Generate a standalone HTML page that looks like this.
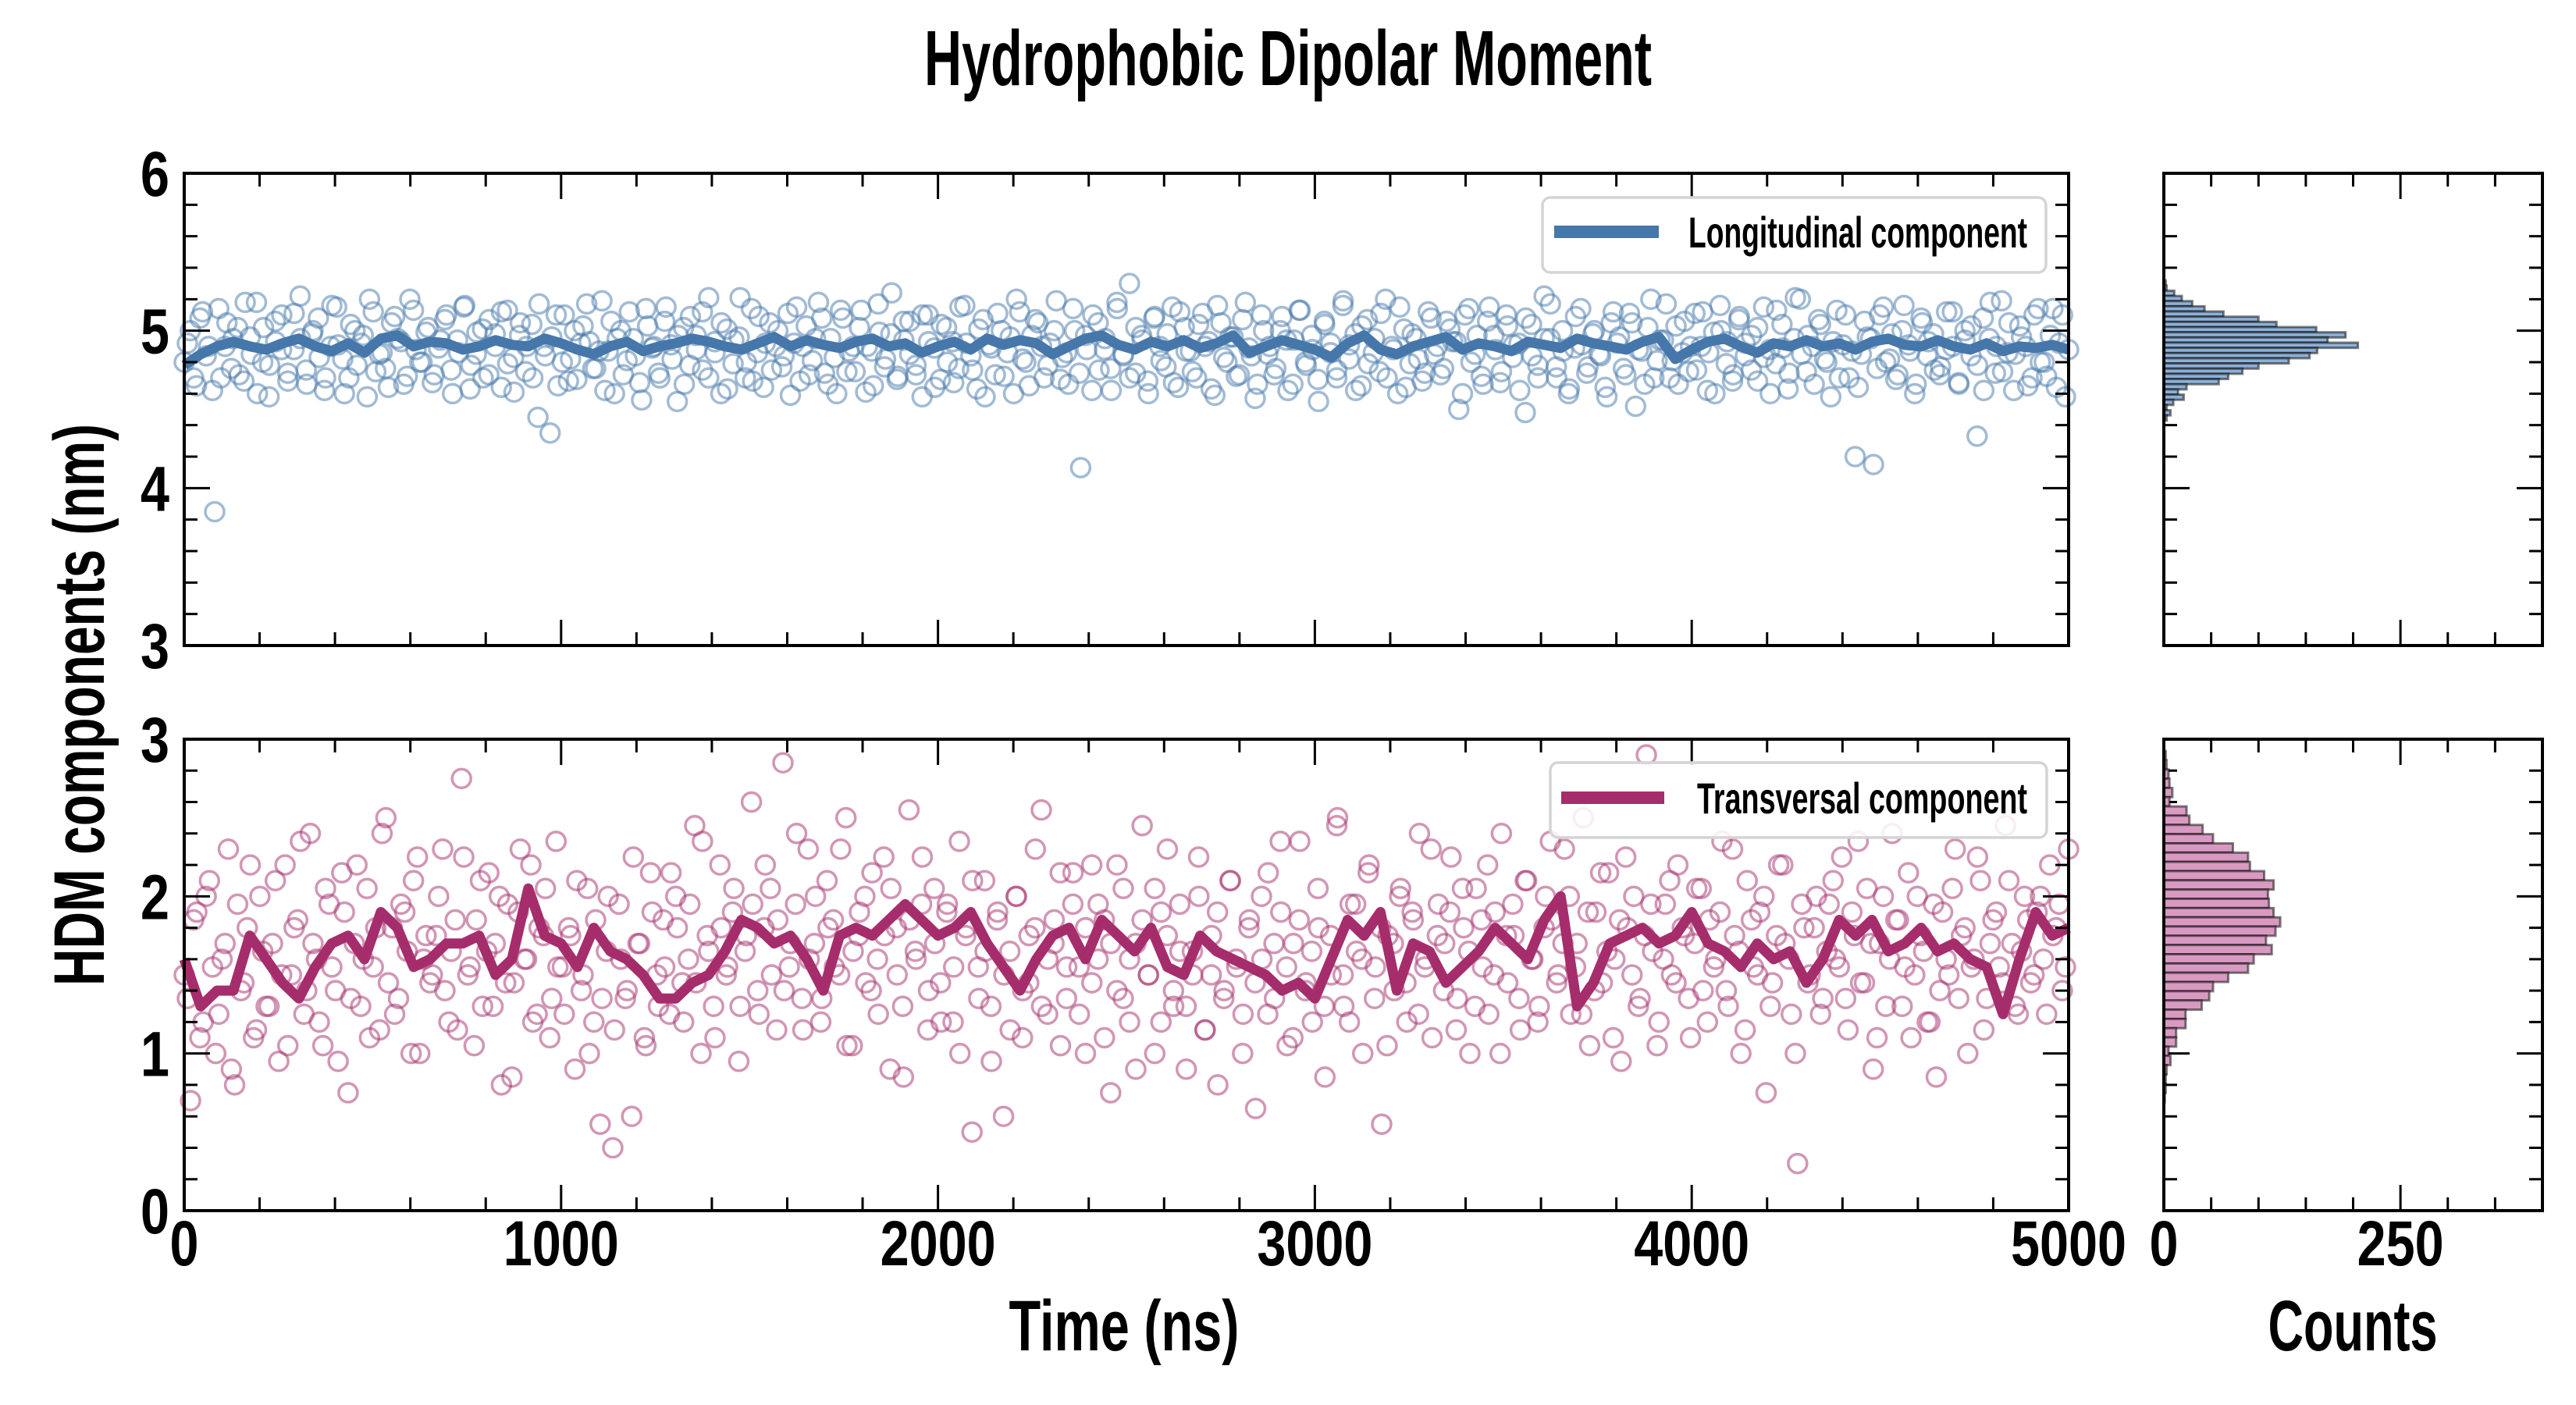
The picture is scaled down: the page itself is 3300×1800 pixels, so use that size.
<!DOCTYPE html>
<html><head><meta charset="utf-8"><style>
html,body{margin:0;padding:0;background:#fff;}
svg{display:block;}
text{font-family:"Liberation Sans Narrow","Liberation Sans",sans-serif;font-weight:bold;fill:#000;}
</style></head><body>
<svg id="chart" width="3300" height="1800" viewBox="0 0 3300 1800" xmlns="http://www.w3.org/2000/svg">
<rect width="3300" height="1800" fill="#fff"/>
<g id="layer"></g>
</svg>
<script>
// ---- data ----
const longMean = [4.78,4.85,4.9,4.93,4.9,4.88,4.92,4.95,4.9,4.87,4.92,4.86,4.95,4.97,4.9,4.93,4.92,4.88,4.9,4.94,4.91,4.9,4.95,4.92,4.88,4.85,4.9,4.93,4.87,4.9,4.92,4.95,4.93,4.9,4.88,4.92,4.96,4.9,4.94,4.91,4.89,4.93,4.95,4.9,4.92,4.86,4.9,4.93,4.88,4.95,4.91,4.94,4.92,4.85,4.9,4.95,4.97,4.91,4.88,4.93,4.9,4.94,4.89,4.92,4.97,4.86,4.9,4.94,4.91,4.88,4.83,4.92,4.97,4.88,4.85,4.9,4.93,4.96,4.88,4.92,4.9,4.87,4.93,4.91,4.89,4.95,4.92,4.9,4.88,4.93,4.96,4.82,4.88,4.93,4.95,4.9,4.86,4.92,4.9,4.94,4.9,4.92,4.88,4.93,4.95,4.91,4.9,4.94,4.9,4.88,4.92,4.87,4.9,4.89,4.91,4.88];
const transMean = [1.6,1.3,1.4,1.4,1.75,1.6,1.45,1.35,1.55,1.7,1.75,1.6,1.9,1.8,1.55,1.6,1.7,1.7,1.75,1.5,1.6,2.05,1.75,1.7,1.55,1.8,1.65,1.6,1.5,1.35,1.35,1.45,1.5,1.65,1.85,1.8,1.7,1.75,1.6,1.4,1.75,1.8,1.75,1.85,1.95,1.85,1.75,1.8,1.9,1.7,1.55,1.4,1.6,1.75,1.8,1.6,1.85,1.75,1.65,1.8,1.55,1.5,1.75,1.65,1.6,1.55,1.5,1.4,1.45,1.35,1.6,1.85,1.75,1.9,1.4,1.7,1.65,1.45,1.55,1.65,1.8,1.7,1.6,1.85,2.0,1.3,1.45,1.7,1.75,1.8,1.7,1.75,1.9,1.7,1.65,1.55,1.7,1.6,1.65,1.45,1.6,1.85,1.75,1.85,1.65,1.7,1.8,1.65,1.7,1.6,1.55,1.25,1.6,1.9,1.75,1.8];
const longPts = [4.8,5.0,4.65,5.12,4.9,3.85,4.7,5.05,4.95,4.72,5.18,4.85,4.6,5.02,4.78,4.93,5.1,4.68,4.88,5.22,
4.75,4.98,5.08,4.62,4.9,5.15,4.82,4.7,5.0,4.92,4.58,5.12,4.85,4.76,5.05,4.95,4.66,5.2,4.88,4.8,
5.02,4.72,4.94,5.1,4.6,4.86,5.16,4.78,4.99,4.7,5.07,4.9,4.64,5.13,4.83,4.97,4.74,5.04,4.45,4.9,
4.35,5.1,4.8,4.68,5.0,4.92,5.17,4.76,4.87,4.62,5.06,4.95,4.72,5.12,4.84,4.56,5.03,4.9,4.7,5.15,
4.82,4.97,4.66,5.09,4.88,4.75,5.21,4.93,4.6,5.01,4.79,4.96,4.7,5.14,4.86,4.64,5.05,4.9,4.77,5.11,
4.92,4.68,5.03,4.81,5.18,4.73,4.95,4.6,5.08,4.87,4.74,5.13,4.9,4.65,4.99,4.82,5.24,4.71,4.94,5.06,
4.78,4.58,5.1,4.89,4.69,5.02,4.93,4.76,5.16,4.84,4.63,5.07,4.91,4.72,5.0,4.86,4.6,5.12,4.8,4.97,
5.05,4.7,4.92,5.19,4.83,4.66,5.0,4.13,4.88,5.1,4.75,4.95,4.62,5.14,4.85,5.3,4.73,4.97,4.68,5.08,
4.9,4.77,5.15,4.64,5.02,4.87,4.7,5.11,4.93,4.59,5.05,4.8,4.96,4.72,5.18,4.84,4.66,5.0,4.9,4.76,
5.09,4.62,4.94,5.13,4.78,4.88,4.55,5.04,4.92,4.7,5.16,4.82,4.98,4.65,5.07,4.86,4.74,5.2,4.9,4.6,
5.01,4.79,4.95,4.68,5.12,4.85,4.72,5.06,4.93,4.5,5.1,4.8,4.97,4.66,5.15,4.88,4.74,5.03,4.91,4.62,
5.08,4.84,4.7,5.22,4.95,4.77,5.0,4.6,4.89,5.14,4.73,4.98,4.85,4.64,5.05,4.92,4.76,5.11,4.52,4.87,
5.02,4.7,4.94,5.17,4.81,4.66,5.06,4.9,4.75,5.12,4.86,4.6,5.0,4.93,4.72,5.09,4.84,4.97,4.68,5.15,
4.88,4.79,5.04,4.63,4.95,5.2,4.74,4.9,5.07,4.82,4.58,5.13,4.91,4.7,4.2,4.85,4.96,4.15,5.1,4.8,
4.98,4.72,5.16,4.87,4.66,5.05,4.93,4.75,4.77,5.12,4.9,4.66,5.0,4.84,4.33,5.08,4.95,4.73,5.19,4.86,
4.62,5.03,4.9,4.7,5.14,4.8,4.97,4.64,5.1,4.88];
const longPts2 = [4.92,4.7,5.08,4.84,4.62,5.14,4.9,4.76,5.02,4.68,4.96,5.18,4.8,4.58,5.06,4.88,4.73,5.11,4.95,4.66,
5.0,4.83,4.7,5.16,4.91,4.6,5.04,4.78,4.97,5.2,4.74,4.86,4.64,5.09,4.93,4.71,5.13,4.8,4.99,4.67,
4.89,5.07,4.75,4.94,5.15,4.63,4.85,5.01,4.72,4.98,5.12,4.79,4.61,5.05,4.9,4.7,5.17,4.84,4.96,4.65,
5.1,4.82,4.69,5.03,4.93,4.76,5.19,4.87,4.6,5.0,4.81,4.95,4.67,5.14,4.89,4.73,5.06,4.91,4.55,5.02,
4.78,4.97,5.12,4.7,4.86,5.05,4.63,4.94,5.21,4.8,4.68,5.09,4.92,4.75,5.0,4.84,4.59,5.15,4.9,4.72,
4.95,5.08,4.66,4.83,5.13,4.74,4.9,5.02,4.61,4.87,5.17,4.77,4.98,4.69,5.06,4.85,4.72,5.1,4.93,4.64,
5.04,4.8,4.67,5.15,4.92,4.75,5.01,4.58,4.89,5.11,4.71,4.96,5.2,4.82,4.65,5.07,4.9,4.78,5.0,4.69,
4.86,5.14,4.73,4.97,4.62,5.05,4.88,4.76,5.18,4.84,4.7,5.02,4.94,4.6,5.09,4.81,4.98,4.67,5.12,4.87,
4.74,5.04,4.9,4.63,5.16,4.83,4.96,4.71,5.07,4.89,4.57,5.1,4.85,4.72,5.0,4.94,4.66,5.13,4.8,4.97,
4.69,5.06,4.86,4.75,5.19,4.91,4.62,5.03,4.79,4.95,5.11,4.7,4.88,5.15,4.64,4.98,4.82,4.73,5.08,4.9,
4.76,5.01,4.93,4.6,5.14,4.85,4.71,5.06,4.97,4.67,5.1,4.83,4.92,4.48,5.04,4.78,4.95,5.17,4.7,4.87,
4.63,5.09,4.91,4.77,5.0,4.84,4.58,5.12,4.96,4.72,5.05,4.88,4.66,5.2,4.81,4.94,4.7,5.03,4.86,4.74,
5.11,4.9,4.62,4.99,5.16,4.79,4.68,5.07,4.92,4.75,5.02,4.83,4.6,5.13,4.89,4.73,5.21,4.85,4.97,4.66,
5.04,4.8,4.93,4.7,5.1,4.87,4.64,5.06,4.95,4.76,5.15,4.82,4.69,5.0,4.91,4.6,5.08,4.84,4.98,4.72,
4.88,5.12,4.67,4.94,5.03,4.78,4.62,5.18,4.9,4.74,5.05,4.85,4.96,4.65,5.1,4.8,4.71,5.14,4.92,4.58];
const transPts = [1.5,0.7,1.9,1.2,2.1,1.0,1.6,2.3,0.8,1.4,1.8,1.1,2.0,1.3,1.7,0.95,2.2,1.5,1.85,1.25,
2.4,1.6,1.05,1.95,1.4,2.15,0.75,1.7,1.3,2.05,1.55,1.15,2.5,1.8,1.35,1.9,1.0,2.25,1.6,1.45,
1.75,2.3,1.2,1.85,2.75,1.5,1.05,2.1,1.65,1.3,2.0,1.45,0.85,1.9,1.6,2.2,1.25,1.75,1.1,2.35,
1.55,1.8,0.9,1.4,2.05,1.2,0.55,1.65,0.4,1.95,1.35,0.6,1.7,1.1,2.15,1.5,1.85,1.25,2.0,1.45,
1.6,2.45,1.0,1.75,1.3,2.2,1.5,1.9,0.95,1.65,2.6,1.4,1.8,2.05,1.15,2.85,1.55,1.95,1.35,2.3,
1.7,1.2,2.1,1.85,1.5,2.5,1.05,1.75,2.0,1.4,1.6,2.25,0.9,1.8,1.3,2.55,1.65,1.95,1.15,2.05,
1.45,1.9,1.2,2.35,1.75,0.5,1.55,2.1,1.3,1.85,0.6,1.65,2.0,1.1,1.45,1.8,2.55,1.25,1.7,2.15,
1.35,1.95,1.55,1.0,2.2,1.6,1.85,0.75,1.4,2.05,1.2,1.7,2.45,1.5,1.0,1.9,2.3,1.3,1.65,0.9,
1.5,2.0,1.15,1.75,0.8,1.4,2.1,1.55,1.25,1.85,0.65,1.6,2.15,1.35,1.9,1.05,1.7,2.35,1.45,1.2,
1.8,0.85,1.5,2.5,1.3,1.95,1.65,1.0,2.2,1.55,0.55,1.75,1.4,2.05,1.2,1.85,2.4,1.6,1.1,1.95,
1.7,2.25,1.35,1.8,1.0,2.05,1.55,1.25,1.9,2.4,1.45,1.75,1.15,2.1,1.6,1.3,2.0,1.85,1.5,2.3,
1.25,1.7,2.5,1.05,1.9,1.45,2.15,1.6,0.95,1.8,2.0,1.35,2.9,1.65,1.2,1.95,1.5,2.2,1.75,1.1,
2.05,1.4,1.85,1.6,2.35,1.3,1.75,1.0,2.1,1.55,1.9,0.75,1.45,2.2,1.7,1.25,0.3,1.8,1.5,2.0,
1.35,1.95,1.6,2.25,1.15,1.75,1.45,2.05,0.9,1.7,1.3,2.4,1.85,1.55,1.1,2.0,1.65,1.2,0.85,1.9,
1.5,2.3,1.75,1.0,1.6,2.1,1.35,1.85,1.55,2.45,1.7,1.25,2.0,1.45,1.9,1.6,2.2,1.8,1.4,2.3];
const transPts2 = [1.35,1.85,1.1,2.0,1.55,1.25,1.7,0.9,1.95,1.45,2.2,1.15,1.65,1.3,2.1,1.5,1.05,1.8,2.35,1.4,
1.7,1.2,2.05,1.55,0.95,1.9,1.35,2.2,1.6,1.1,1.8,2.4,1.45,1.25,1.95,1.65,2.1,1.0,1.75,1.5,
2.0,1.4,1.65,1.15,2.25,1.55,1.85,1.3,2.15,1.7,0.8,1.95,1.45,2.3,1.6,1.2,1.8,2.05,1.35,1.55,
1.25,1.75,2.1,1.5,1.0,1.85,1.35,2.0,1.15,1.6,1.4,2.25,1.7,1.05,1.9,1.3,1.55,2.15,1.8,1.2,
1.95,1.45,2.35,1.65,1.1,1.8,1.55,2.05,1.3,1.75,1.95,1.25,2.2,1.5,1.85,1.4,1.7,2.4,1.15,1.6,
2.0,1.35,1.8,1.55,2.3,1.05,1.65,1.9,1.45,2.15,1.25,1.75,2.05,1.5,0.85,1.85,1.6,2.25,1.4,1.7,
1.2,1.95,1.55,1.0,1.8,2.1,1.35,1.65,0.95,1.9,1.5,1.15,2.0,1.4,1.75,2.3,1.3,1.6,1.85,1.05,
1.55,2.15,1.25,1.8,1.45,1.95,1.1,1.7,2.2,1.35,1.6,0.9,1.85,1.5,2.05,1.2,1.75,1.4,1.95,1.3,
1.65,2.25,1.15,1.5,1.9,1.35,2.1,1.6,1.0,1.8,1.45,2.0,1.25,1.7,2.35,1.55,1.1,1.85,1.4,1.65,
2.05,1.3,1.75,2.45,1.5,1.2,1.95,1.6,2.15,1.35,1.8,1.05,1.7,2.0,1.45,1.9,1.25,1.55,2.3,1.75,
1.4,1.9,1.15,2.05,1.65,1.3,1.85,2.2,1.5,1.0,1.75,1.95,1.35,2.1,1.6,1.2,1.8,2.35,1.45,1.7,
2.0,1.55,1.25,1.9,1.4,2.15,1.65,1.1,1.85,2.25,1.5,1.3,1.75,1.95,1.05,1.6,2.1,1.45,1.8,1.35,
1.7,2.05,1.2,1.55,1.9,1.4,2.3,1.65,1.15,1.85,1.5,2.0,1.3,1.75,2.2,1.6,1.0,1.95,1.45,1.8,
1.25,1.65,2.1,1.55,1.35,1.9,2.35,1.45,1.7,1.1,2.0,1.6,1.85,1.3,2.15,1.5,1.75,1.2,1.95,1.4,
1.6,2.05,1.35,1.8,1.55,2.25,1.15,1.7,1.9,1.45,2.1,1.3,1.65,1.85,1.5,2.0,1.25,1.75,1.95,1.55];
// histogram counts, listed from highest bin downward
const longHistTop = 5.32, longHistBin = 0.033;
const longCounts = [2,3,11,19,30,43,63,100,119,161,192,173,205,162,154,132,100,83,68,58,24,15,21,10,3,7,3];
const transHistTop = 2.925, transHistBin = 0.0588;
const transCounts = [2,3,5,6,9,6,24,27,41,52,73,89,91,106,116,110,111,116,123,118,108,114,95,89,68,52,48,40,23,23,13,13,5,7,3,2,2,1];
const xTicks = [0,1000,2000,3000,4000,5000];
const topYTicks = [3,4,5,6];
const botYTicks = [0,1,2,3];
const countTicks = [0,250];

// ---- layout ----
const NS='http://www.w3.org/2000/svg';
const L=document.getElementById('layer');
const X0=236,X1=2650,HX0=2772,HX1=3257;
const TOP={y0:222,y1:827,min:3,max:6};
const BOT={y0:947,y1:1551,min:0,max:3};
const xs=t=>X0+(t/5000)*(X1-X0);
const hx=c=>HX0+(c/400)*(HX1-HX0);
const ys=(p,v)=>p.y1-(v-p.min)/(p.max-p.min)*(p.y1-p.y0);
function mk(tag,attrs,parent){const e=document.createElementNS(NS,tag);for(const k in attrs)e.setAttribute(k,attrs[k]);(parent||L).appendChild(e);return e;}
function txt(s,x,y,size,anchor,len,parent){const e=mk('text',{x:x,y:y,'font-size':size,'text-anchor':anchor||'middle'},parent);if(len){e.setAttribute('textLength',len);e.setAttribute('lengthAdjust','spacingAndGlyphs');}e.textContent=s;return e;}

function panel(p,name,color,fill,pts,pts2,mean,counts,htop,hbin,yt,showX){
  const g=mk('g',{});
  
  
  const sg=mk('g',{fill:'none',stroke:color,'stroke-width':3.5,'stroke-opacity':0.5},g);
  
  
  const step=5000/(pts.length-1);
  pts.forEach((v,i)=>{const c=mk('circle',{cx:xs(i*step),cy:ys(p,v),r:12},sg);
    
    });
  pts2.forEach((v,i)=>{const c=mk('circle',{cx:xs(Math.min(5000,(i+0.5)*5000/pts2.length)),cy:ys(p,v),r:12},sg);
    
    });
  const d=mean.map((v,i)=>(i?'L':'M')+xs(i*5000/(mean.length-1)).toFixed(1)+','+ys(p,v).toFixed(1)).join('');
  const ln=mk('path',{d:d,fill:'none',stroke:color,'stroke-width':13,'stroke-linejoin':'round'},g);
  
  
  const fr=mk('rect',{x:X0,y:p.y0,width:X1-X0,height:p.y1-p.y0,fill:'none',stroke:'#000','stroke-width':4},g);
  
  
  const tk=mk('g',{stroke:'#000','stroke-width':3},g);
  for(let t=0;t<=5000;t+=200){const maj=t%1000===0,len=maj?33:17,x=xs(t);
    mk('line',{x1:x,y1:p.y1,x2:x,y2:p.y1-len},tk);mk('line',{x1:x,y1:p.y0,x2:x,y2:p.y0+len},tk);}
  for(let k=0;k<=15;k++){const v=p.min+k*0.2,maj=k%5===0,len=maj?33:17,y=ys(p,v);
    mk('line',{x1:X0,y1:y,x2:X0+len,y2:y},tk);mk('line',{x1:X1,y1:y,x2:X1-len,y2:y},tk);
    mk('line',{x1:HX0,y1:y,x2:HX0+len,y2:y},tk);mk('line',{x1:HX1,y1:y,x2:HX1-len,y2:y},tk);}
  yt.forEach(v=>{const e=txt(String(v),217,ys(p,v)+29,82,'end',37);
    
    });
  if(showX){xTicks.forEach(t=>{const s=String(t);const e=txt(s,xs(t),1621,82,'middle',37*s.length);
    
    });}
  const hg=mk('g',{fill:fill,stroke:'#000','stroke-opacity':0.5,'stroke-width':3},g);
  
  
  counts.forEach((c,i)=>{const yTop=ys(p,htop-i*hbin),yB=ys(p,htop-(i+1)*hbin);
    const r=mk('rect',{x:HX0,y:yTop,width:hx(c)-HX0,height:yB-yTop},hg);
    
    });
  const hf=mk('rect',{x:HX0,y:p.y0,width:HX1-HX0,height:p.y1-p.y0,fill:'none',stroke:'#000','stroke-width':4},g);
  
  
  for(let c=0;c<=400;c+=50){const len=(c%250===0)?33:17,x=hx(c);
    mk('line',{x1:x,y1:p.y1,x2:x,y2:p.y1-len},tk);mk('line',{x1:x,y1:p.y0,x2:x,y2:p.y0+len},tk);}
  if(showX){countTicks.forEach(c=>{const s=String(c);const e=txt(s,hx(c),1621,82,'middle',37*s.length);
    
    });}
  return g;
}
panel(TOP,'longitudinal','#4677aa','#8eb0d6',longPts,longPts2,longMean,longCounts,longHistTop,longHistBin,topYTicks,false);
panel(BOT,'transversal','#a62d6c','#d99ac2',transPts,transPts2,transMean,transCounts,transHistTop,transHistBin,botYTicks,true);

function legend(x,y,w,h,lx1,lx2,ly,tx,tl,tb,color,label,name){
  const g=mk('g',{});
  
  
  mk('rect',{x:x,y:y,width:w,height:h,rx:10,fill:'#fff','fill-opacity':0.85,stroke:'#d4d4d4','stroke-width':3.5},g);
  mk('line',{x1:lx1,y1:ly,x2:lx2,y2:ly,stroke:color,'stroke-width':16},g);
  txt(label,tx,tb,56,'start',tl,g);
}
legend(1976,253,645,96,1991,2125,297,2163,434,317,'#4677aa','Longitudinal component','legend-longitudinal');
legend(1986,977,636,96,2000,2132,1022,2174,423,1042,'#a62d6c','Transversal component','legend-transversal');

let e=txt('Hydrophobic Dipolar Moment',1650,109,100,'middle',932);


e=txt('Time (ns)',1440,1730,92,'middle',295);


e=txt('Counts',3014,1730,92,'middle',217);


e=txt('HDM components (nm)',0,0,92,'middle',720);
e.setAttribute('transform','translate(133,903) rotate(-90)');


</script>
</body></html>
